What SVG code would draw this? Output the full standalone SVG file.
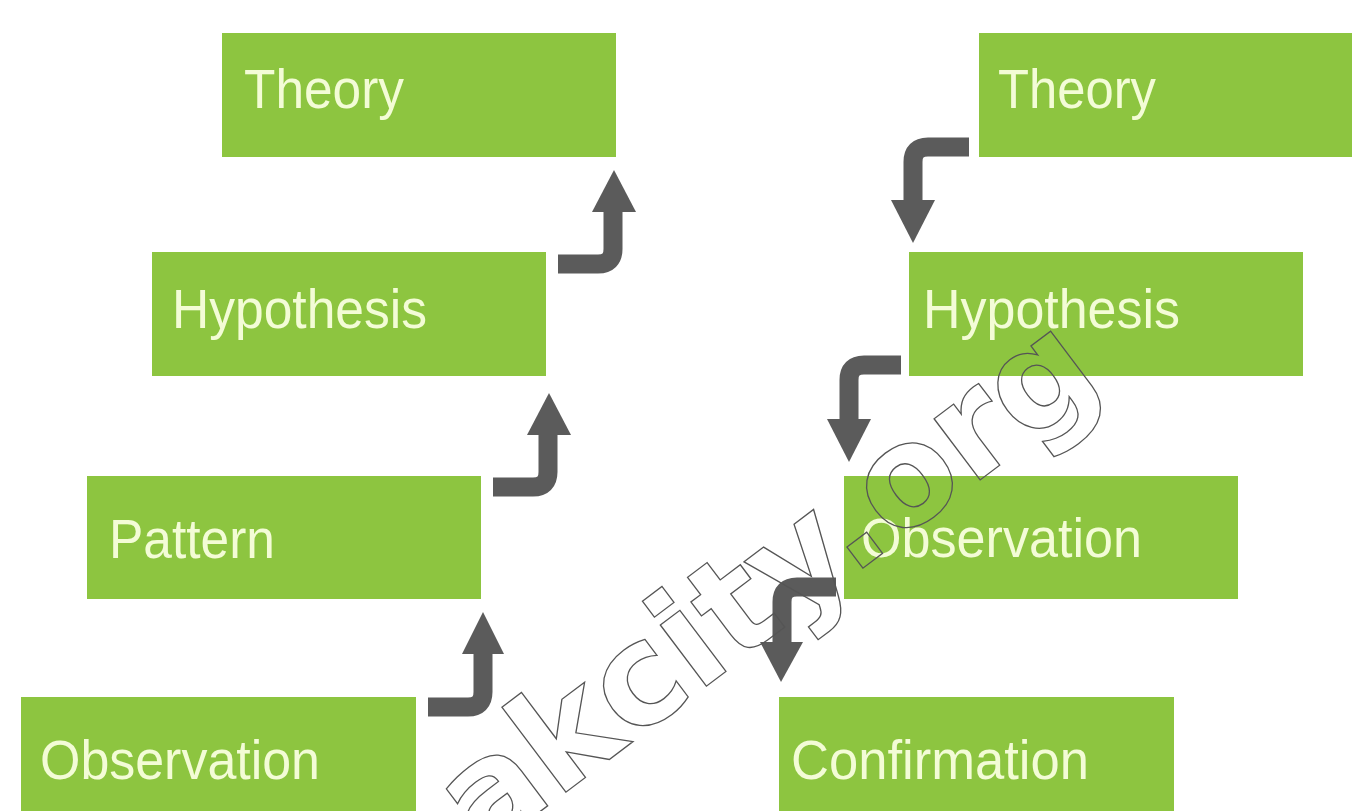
<svg xmlns="http://www.w3.org/2000/svg" width="1352" height="811" viewBox="0 0 1352 811">
  <style>
    .box { fill: #8dc540; }
    .lbl { font-family: "Liberation Sans", Arial, sans-serif; font-size: 56px; fill: #f3fcd6; }
    .conn { fill: none; stroke: #5b5b5b; stroke-width: 19; }
    .head { fill: #5b5b5b; }
    .wm { font-family: "DejaVu Sans", sans-serif; font-weight: bold; font-size: 140px; fill: none; stroke: #555; stroke-width: 1.3; }
  </style>
  <rect width="1352" height="811" fill="#ffffff"/>

  <g id="theory-left"><rect class="box" x="222" y="33" width="394" height="124"/><text class="lbl" x="244" y="108" textLength="160" lengthAdjust="spacingAndGlyphs">Theory</text></g>
  <g id="hypothesis-left"><rect class="box" x="152" y="252" width="394" height="124"/><text class="lbl" x="172" y="328" textLength="255" lengthAdjust="spacingAndGlyphs">Hypothesis</text></g>
  <g id="pattern-left"><rect class="box" x="87" y="476" width="394" height="123"/><text class="lbl" x="109" y="558" textLength="166" lengthAdjust="spacingAndGlyphs">Pattern</text></g>
  <g id="observation-left"><rect class="box" x="21" y="697" width="395" height="120"/><text class="lbl" x="40" y="779" textLength="280" lengthAdjust="spacingAndGlyphs">Observation</text></g>

  <g id="theory-right"><rect class="box" x="979" y="33" width="380" height="124"/><text class="lbl" x="998" y="108" textLength="158" lengthAdjust="spacingAndGlyphs">Theory</text></g>
  <g id="hypothesis-right"><rect class="box" x="909" y="252" width="394" height="124"/><text class="lbl" x="923" y="328" textLength="257" lengthAdjust="spacingAndGlyphs">Hypothesis</text></g>
  <g id="observation-right"><rect class="box" x="844" y="476" width="394" height="123"/><text class="lbl" x="861" y="557" textLength="281" lengthAdjust="spacingAndGlyphs">Observation</text></g>
  <g id="confirmation-right"><rect class="box" x="779" y="697" width="395" height="120"/><text class="lbl" x="791" y="779" textLength="298" lengthAdjust="spacingAndGlyphs">Confirmation</text></g>

  <g id="connectors">
    <path class="conn" d="M558,264 H598 Q613,264 613,249 V208"/>
    <polygon class="head" points="592,212 636,212 614,170"/>
    <path class="conn" d="M493,487 H533 Q548,487 548,472 V431"/>
    <polygon class="head" points="527,435 571,435 549,393"/>
    <path class="conn" d="M428,707 H468 Q483,707 483,692 V651"/>
    <polygon class="head" points="462,654 504,654 483,612"/>

    <path class="conn" d="M969,147 H928 Q913,147 913,162 V203"/>
    <polygon class="head" points="891,200 935,200 913,243"/>
    <path class="conn" d="M901,365 H864 Q849,365 849,380 V421"/>
    <polygon class="head" points="827,419 871,419 849,462"/>
    <path class="conn" d="M836,587 H797 Q782,587 782,602 V643"/>
    <polygon class="head" points="760,642 803,642 781,682"/>
  </g>

  <g id="watermark">
    <text class="wm" transform="translate(481,856) rotate(-37)">akcity.org</text>
  </g>
</svg>
